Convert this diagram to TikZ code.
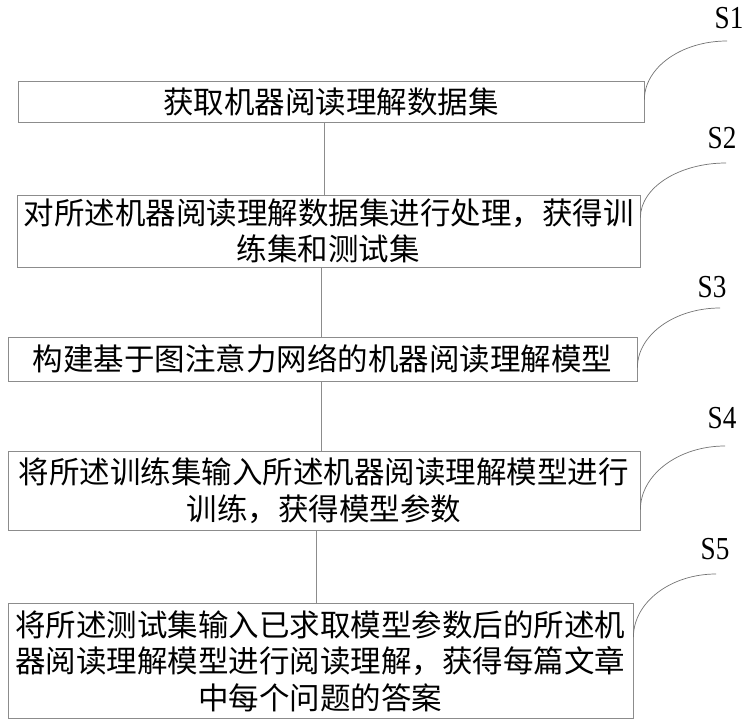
\documentclass[tikz,border=0pt]{standalone}
\usepackage{fontspec}
\newfontfamily\cjk{Noto Sans CJK SC}
\newfontfamily\labfont[FakeStretch=0.85]{Liberation Serif}
\setmainfont{Liberation Serif}
\usetikzlibrary{calc}
\begin{document}
\begin{tikzpicture}[x=1pt,y=-1pt,
  stepbox/.style={draw=black!45, line width=0.8pt, inner sep=0pt, align=center,
    font=\cjk\fontsize{30.5}{36.5}\selectfont, text=black},
  link/.style={draw=black!45, line width=0.8pt},
  lead/.style={draw=black!55, line width=0.7pt},
  steplabel/.style={font=\labfont\fontsize{32}{34}\selectfont, inner sep=0pt, text=black}]
\useasboundingbox (0,0) rectangle (750,728);

\node[stepbox, minimum width=626pt, minimum height=41pt] (b1) at (331,101.5) {获取机器阅读理解数据集};
\node[stepbox, minimum width=623pt, minimum height=72pt] (b2) at (328.5,231) {对所述机器阅读理解数据集进行处理，获得训\\练集和测试集};
\node[stepbox, minimum width=629pt, minimum height=44pt] (b3) at (322.5,359) {构建基于图注意力网络的机器阅读理解模型};
\node[stepbox, minimum width=632pt, minimum height=79pt] (b4) at (324,490.5) {将所述训练集输入所述机器阅读理解模型进行\\训练，获得模型参数};
\node[stepbox, minimum width=625pt, minimum height=115pt] (b5) at (320.5,661) {将所述测试集输入已求取模型参数后的所述机\\器阅读理解模型进行阅读理解，获得每篇文章\\中每个问题的答案};

% connectors
\draw[link] (b1.south -| 324,0) -- (b2.north -| 324,0);
\draw[link] (b2.south -| 321,0) -- (b3.north -| 321,0);
\draw[link] (b3.south -| 321,0) -- (b4.north -| 321,0);
\draw[link] (b4.south -| 316,0) -- (b5.north -| 316,0);

% step labels
\node[steplabel] (s1) at (729,18) {S1};
\node[steplabel] (s2) at (722,138) {S2};
\node[steplabel] (s3) at (712,287) {S3};
\node[steplabel] (s4) at (722,418) {S4};
\node[steplabel] (s5) at (715,549) {S5};

% leader curves
\coordinate (c1s) at ($(b1.north east)+(0,19)$);
\coordinate (c1e) at (727,41);
\coordinate (c2s) at ($(b2.north east)+(0,23)$);
\coordinate (c2e) at (726,163);
\coordinate (c3s) at ($(b3.north east)+(0,31)$);
\coordinate (c3e) at (720,308);
\coordinate (c4s) at ($(b4.north east)+(0,59)$);
\coordinate (c4e) at (725,446);
\coordinate (c5s) at ($(b5.north east)+(0,34)$);
\coordinate (c5e) at (716,574);
\foreach \i in {1,...,5}{
  \draw[lead] (c\i s) .. controls ($(c\i s)!0.55!(c\i s|-c\i e)$) and ($(c\i e)!0.55!(c\i s|-c\i e)$) .. (c\i e);
}
\end{tikzpicture}
\end{document}
